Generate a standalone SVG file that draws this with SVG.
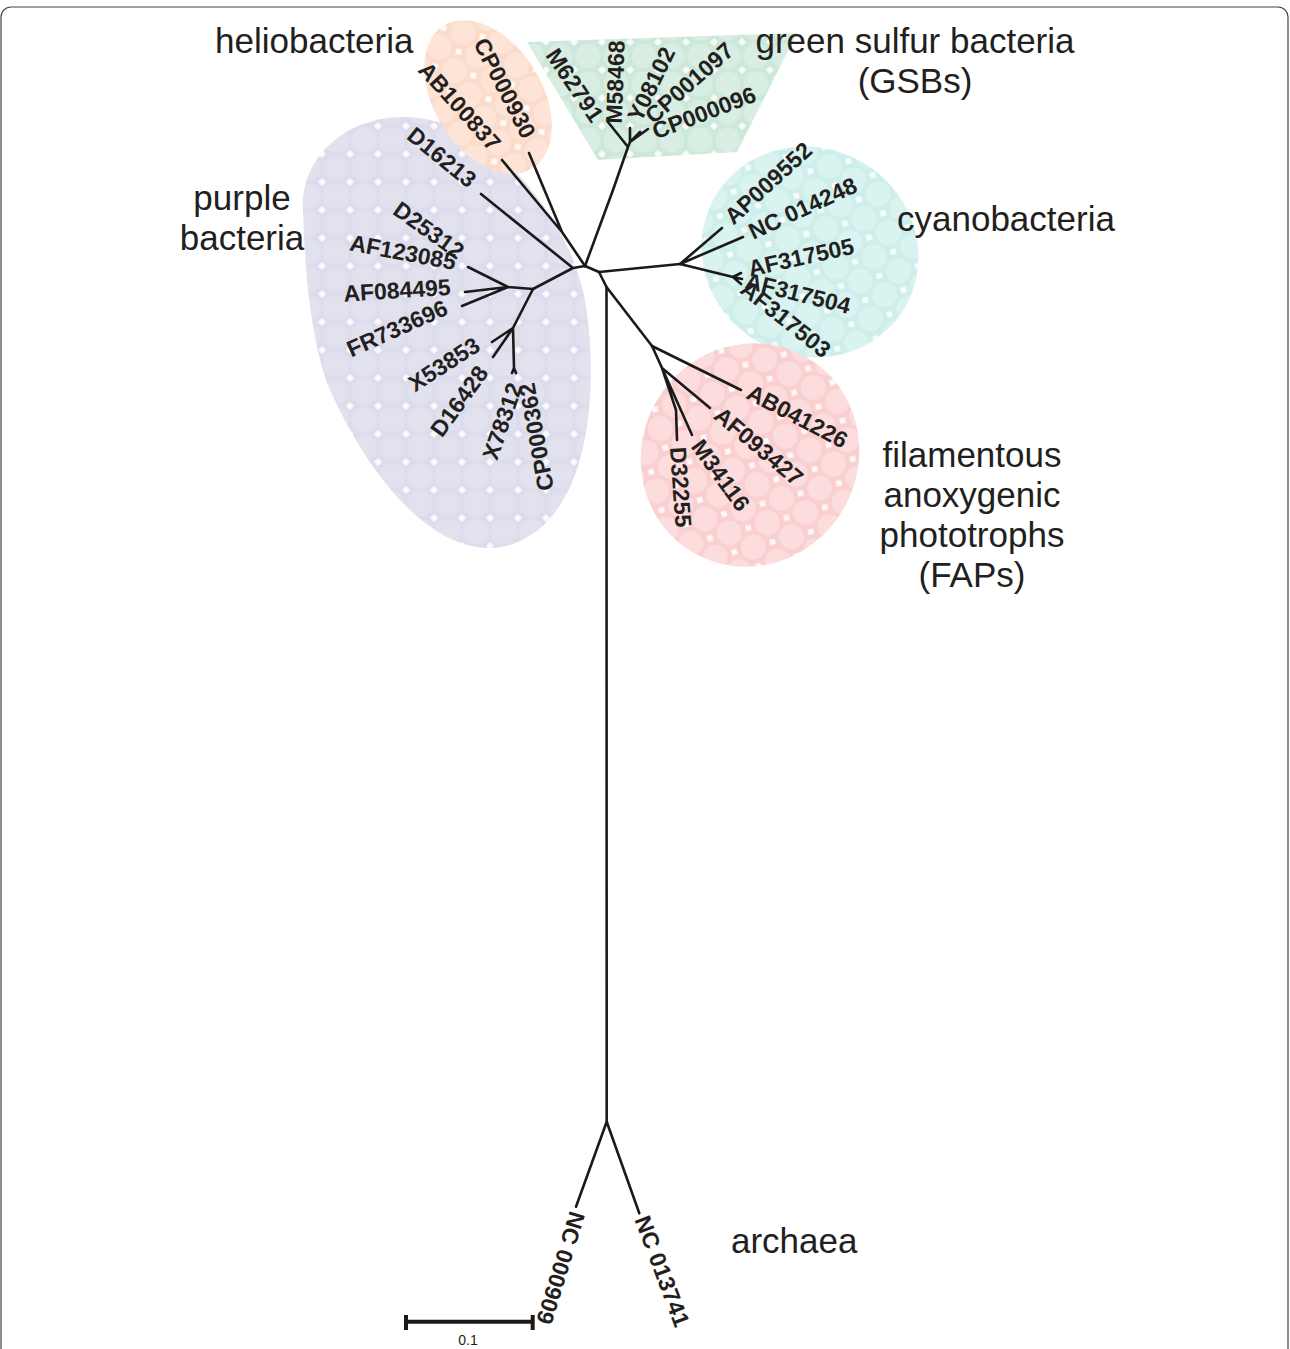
<svg xmlns="http://www.w3.org/2000/svg" width="1290" height="1349" viewBox="0 0 1290 1349">
<style>
.lf{font-family:"Liberation Sans",Arial,sans-serif;font-weight:bold;font-size:23px;fill:#231f20;text-anchor:middle}
.gl{font-family:"Liberation Sans",Arial,sans-serif;font-size:35px;fill:#231f20}
.br{fill:none;stroke:#1a1a1a;stroke-width:2.6;stroke-linecap:round;stroke-linejoin:round}
</style>
<defs>
<pattern id="pPur" width="28" height="28" patternUnits="userSpaceOnUse">
<rect width="28" height="28" fill="#dcdcec"/>
<circle cx="0" cy="0" r="12.5" fill="#e2e2ef"/><circle cx="28" cy="0" r="12.5" fill="#e2e2ef"/><circle cx="0" cy="28" r="12.5" fill="#e2e2ef"/><circle cx="28" cy="28" r="12.5" fill="#e2e2ef"/>
<polygon points="14,10 18,14 14,18 10,14" fill="#fafafd"/>
</pattern>
<pattern id="pPea" width="28" height="28" patternUnits="userSpaceOnUse">
<rect width="28" height="28" fill="#fbdccb"/>
<circle cx="0" cy="0" r="12.5" fill="#fde4d6"/><circle cx="28" cy="0" r="12.5" fill="#fde4d6"/><circle cx="0" cy="28" r="12.5" fill="#fde4d6"/><circle cx="28" cy="28" r="12.5" fill="#fde4d6"/>
<polygon points="14,10 18,14 14,18 10,14" fill="#fffaf7"/>
</pattern>
<pattern id="pGre" width="28" height="28" patternUnits="userSpaceOnUse">
<rect width="28" height="28" fill="#cde8da"/>
<circle cx="0" cy="0" r="12.5" fill="#d8eee2"/><circle cx="28" cy="0" r="12.5" fill="#d8eee2"/><circle cx="0" cy="28" r="12.5" fill="#d8eee2"/><circle cx="28" cy="28" r="12.5" fill="#d8eee2"/>
<polygon points="14,10 18,14 14,18 10,14" fill="#f7fcf9"/>
</pattern>
<pattern id="pCya" width="28" height="28" patternUnits="userSpaceOnUse">
<rect width="28" height="28" fill="#cdeeea"/>
<circle cx="0" cy="0" r="12.5" fill="#d9f3f0"/><circle cx="28" cy="0" r="12.5" fill="#d9f3f0"/><circle cx="0" cy="28" r="12.5" fill="#d9f3f0"/><circle cx="28" cy="28" r="12.5" fill="#d9f3f0"/>
<polygon points="14,10 18,14 14,18 10,14" fill="#f7fdfc"/>
</pattern>
<pattern id="pPin" width="28" height="28" patternUnits="userSpaceOnUse">
<rect width="28" height="28" fill="#f9cfcf"/>
<circle cx="0" cy="0" r="12.5" fill="#fcdcdc"/><circle cx="28" cy="0" r="12.5" fill="#fcdcdc"/><circle cx="0" cy="28" r="12.5" fill="#fcdcdc"/><circle cx="28" cy="28" r="12.5" fill="#fcdcdc"/>
<polygon points="14,10 18,14 14,18 10,14" fill="#fff8f8"/>
</pattern>
</defs>
<rect x="0" y="0" width="1290" height="1349" fill="#ffffff"/>
<rect x="1" y="7" width="1287" height="1360" rx="10" fill="none" stroke="#444" stroke-width="1.2"/>

<g id="regions">
<path id="region-purple" d="M303,210 C300,150 360,105 430,120 C500,135 570,220 585,300 C600,390 590,520 510,545 C440,565 370,480 330,390 C310,340 305,270 303,210 Z" fill="url(#pPur)"/>
<ellipse id="region-helio" cx="488" cy="97" rx="84" ry="54" transform="rotate(58 488 97)" fill="url(#pPea)"/>
<polygon id="region-gsb" points="527,42 797,33 737,152 598,160" fill="url(#pGre)"/>
<ellipse id="region-cyano" cx="810" cy="252" rx="110" ry="104" transform="rotate(30 810 252)" fill="url(#pCya)"/>
<ellipse id="region-fap" cx="750" cy="455" rx="113" ry="108" transform="rotate(-60 750 455)" fill="url(#pPin)"/>
</g>

<g id="connectors">
<path class="br" d="M606.5,287 L606.7,1121.7"/>
<path class="br" d="M606.7,1121.7 L576,1206.7 M606.7,1121.7 L639.3,1213.3"/>
<path class="br" d="M585,266 L599,272 L606.5,287 L652,346"/>
<path class="br" d="M599,272 L680,264"/>
<path class="br" d="M680,264 L722,228 M680,264 L743,237 M680,264 L733,277 L741,273 M733,277 L742,279 M733,277 L741,284"/>
<path class="br" d="M652,346 L741,390 M652,346 L662,368 L710,408 M662,368 L692,435 M662,368 L676,410 L677,440"/>
<path class="br" d="M585,266 L613,190 L628,147 L608,122 M628,147 L630,142 L630,128 M630,142 L640,132 M630,142 L648,129"/>
<path class="br" d="M585,266 L562,232 L502,160 M562,232 L529,153"/>
<path class="br" d="M585,266 L573,268 L481,194 M573,268 L533,289"/>
<path class="br" d="M533,289 L508,287 L468,267 M508,287 L465,292 M508,287 L462,306"/>
<path class="br" d="M533,289 L513,328 L492,342 M513,328 L493,357 M513,328 L514,368 L512,373 M514,368 L516,373"/>
<path d="M406,1321.7 L532.7,1321.7 M406,1315 L406,1330 M532.7,1315 L532.7,1330" fill="none" stroke="#1a1a1a" stroke-width="4"/>
</g>

<g id="leaf-labels">
<text class="lf" transform="translate(505,88) rotate(63)" dy="0.36em">CP000930</text>
<text class="lf" transform="translate(460,106) rotate(48)" dy="0.36em">AB100837</text>
<text class="lf" transform="translate(442,157) rotate(39)" dy="0.36em">D16213</text>
<text class="lf" transform="translate(429,230) rotate(35.6)" dy="0.36em">D25312</text>
<text class="lf" transform="translate(403,252) rotate(10.6)" dy="0.36em">AF123085</text>
<text class="lf" transform="translate(397,290) rotate(-3.6)" dy="0.36em">AF084495</text>
<text class="lf" transform="translate(397,328) rotate(-24)" dy="0.36em">FR733696</text>
<text class="lf" transform="translate(444,364) rotate(-32.7)" dy="0.36em">X53853</text>
<text class="lf" transform="translate(459,401) rotate(-54)" dy="0.36em">D16428</text>
<text class="lf" transform="translate(502,421) rotate(-71)" dy="0.36em">X78312</text>
<text class="lf" transform="translate(536,437) rotate(-100.5)" dy="0.36em">CP000362</text>
<text class="lf" transform="translate(575,85) rotate(56)" dy="0.36em">M62791</text>
<text class="lf" transform="translate(615,82) rotate(-88)" dy="0.36em">M58468</text>
<text class="lf" transform="translate(651,84) rotate(-64)" dy="0.36em">Y08102</text>
<text class="lf" transform="translate(689,82.5) rotate(-41.4)" dy="0.36em">CP001097</text>
<text class="lf" transform="translate(704,112.5) rotate(-20.7)" dy="0.36em">CP000096</text>
<text class="lf" transform="translate(768,183) rotate(-42.5)" dy="0.36em">AP009552</text>
<text class="lf" transform="translate(802.5,208) rotate(-24.8)" dy="0.36em">NC 014248</text>
<text class="lf" transform="translate(801,257) rotate(-12.5)" dy="0.36em">AF317505</text>
<text class="lf" transform="translate(798,293) rotate(14)" dy="0.36em">AF317504</text>
<text class="lf" transform="translate(786,319) rotate(38.5)" dy="0.36em">AF317503</text>
<text class="lf" transform="translate(797.5,416) rotate(27.7)" dy="0.36em">AB041226</text>
<text class="lf" transform="translate(759,446) rotate(40)" dy="0.36em">AF093427</text>
<text class="lf" transform="translate(721,475) rotate(54)" dy="0.36em">M34116</text>
<text class="lf" transform="translate(681,487) rotate(86)" dy="0.36em">D32255</text>
<text class="lf" transform="translate(561,1268) rotate(107)" dy="0.36em">NC 000909</text>
<text class="lf" transform="translate(662.5,1271) rotate(69.4)" dy="0.36em">NC 013741</text>
</g>

<g id="group-labels">
<text class="gl" x="215" y="53">heliobacteria</text>
<text class="gl" x="915" y="53" text-anchor="middle">green sulfur bacteria</text>
<text class="gl" x="915" y="93" text-anchor="middle">(GSBs)</text>
<text class="gl" x="242" y="210" text-anchor="middle">purple</text>
<text class="gl" x="242" y="250" text-anchor="middle">bacteria</text>
<text class="gl" x="897" y="231">cyanobacteria</text>
<text class="gl" x="972" y="467" text-anchor="middle">filamentous</text>
<text class="gl" x="972" y="507" text-anchor="middle">anoxygenic</text>
<text class="gl" x="972" y="547" text-anchor="middle">phototrophs</text>
<text class="gl" x="972" y="587" text-anchor="middle">(FAPs)</text>
<text class="gl" x="731" y="1253">archaea</text>
<text x="468" y="1345" text-anchor="middle" font-family="Liberation Sans, Arial, sans-serif" font-size="14" fill="#231f20">0.1</text>
</g>
</svg>
